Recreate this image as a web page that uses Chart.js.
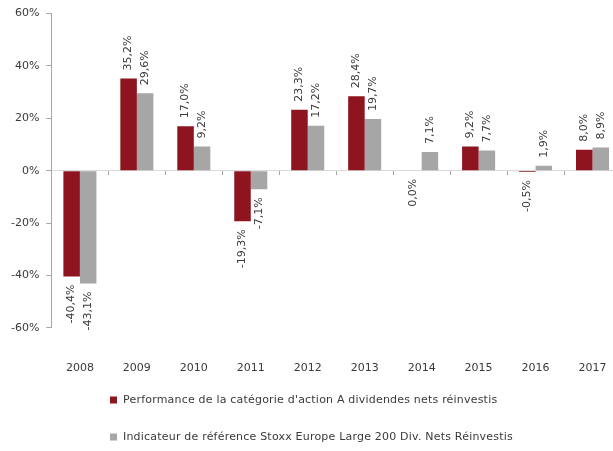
<!DOCTYPE html>
<html>
<head>
<meta charset="utf-8">
<script src="https://cdn.jsdelivr.net/npm/chart.js@4/dist/chart.umd.min.js"></script>
<style>
html,body{margin:0;padding:0;background:#fff;overflow:hidden;}
#wrap{width:613px;height:451px;position:relative;overflow:hidden;}
canvas{display:block;}
</style>
</head>
<body>
<div id="wrap"><canvas id="c" width="621" height="451"></canvas></div>
<script>
const years = ['2008','2009','2010','2011','2012','2013','2014','2015','2016','2017'];
const fundPerf = [-40.4, 35.2, 17.0, -19.3, 23.3, 28.4, 0.0, 9.2, -0.5, 8.0];
const indexPerf = [-43.1, 29.6, 9.2, -7.1, 17.2, 19.7, 7.1, 7.7, 1.9, 8.9];
const fundLabel = "Performance de la catégorie d'action A dividendes nets réinvestis";
const indexLabel = "Indicateur de référence Stoxx Europe Large 200 Div. Nets Réinvestis";
const yTicks = [-60, -40, -20, 0, 20, 40, 60];

const FONT = 'DejaVu Sans';
const TXT = '#3a3a3a';

function fmt(v){ return v.toFixed(1).replace('.', ',') + '%'; }

const dataLabels = {
  id: 'dataLabels',
  afterDatasetsDraw(chart){
    const ctx = chart.ctx;
    ctx.save();
    ctx.font = '11px "' + FONT + '"';
    ctx.fillStyle = TXT;
    chart.data.datasets.forEach((ds, di) => {
      const meta = chart.getDatasetMeta(di);
      meta.data.forEach((bar, i) => {
        const v = ds.data[i];
        const txt = fmt(v);
        ctx.save();
        ctx.translate(bar.x, v > 0 ? bar.y - 8 : Math.max(bar.y, bar.base) + 8);
        ctx.rotate(-Math.PI / 2);
        ctx.textBaseline = 'middle';
        ctx.textAlign = v > 0 ? 'left' : 'right';
        ctx.fillText(txt, 0, 0);
        ctx.restore();
      });
    });
    ctx.restore();
  }
};

const customLegend = {
  id: 'customLegend',
  afterDraw(chart){
    const ctx = chart.ctx;
    ctx.save();
    ctx.font = '11px "' + FONT + '"';
    try { ctx.letterSpacing = '0.2px'; } catch(e) {}
    ctx.textBaseline = 'middle';
    ctx.textAlign = 'left';
    const rows = [400, 437];
    chart.data.datasets.forEach((ds, di) => {
      const y = rows[di];
      ctx.fillStyle = ds.backgroundColor;
      ctx.fillRect(110, y - 3.5, 7, 7);
      ctx.fillStyle = TXT;
      ctx.fillText(ds.label, 123, y);
    });
    ctx.restore();
  }
};

new Chart(document.getElementById('c'), {
  type: 'bar',
  data: {
    labels: years,
    datasets: [
      { label: fundLabel, data: fundPerf, backgroundColor: '#8E1520', barPercentage: 1.0, categoryPercentage: 0.58, xAxisID: 'x' },
      { label: indexLabel, data: indexPerf, backgroundColor: '#A6A6A6', barPercentage: 1.0, categoryPercentage: 0.58, xAxisID: 'x' }
    ]
  },
  options: {
    responsive: false,
    animation: false,
    devicePixelRatio: 1,
    layout: { padding: { top: 11, right: 0, bottom: 42, left: 4 } },
    plugins: { legend: { display: false }, tooltip: { enabled: false } },
    scales: {
      x: {
        type: 'category',
        position: 'bottom',
        offset: true,
        grid: { display: false, drawTicks: false },
        border: { display: false },
        ticks: { padding: 34, color: TXT, font: { family: FONT, size: 11 }, maxRotation: 0, autoSkip: false },
        afterFit(scale){ scale.paddingLeft = 0; scale.paddingRight = 0; }
      },
      x2: {
        type: 'category',
        labels: years,
        position: { y: 0 },
        offset: true,
        grid: { offset: true, drawOnChartArea: false, drawTicks: true, tickLength: 4, color: '#A6A6A6' },
        border: { display: true, color: '#D9D9D9', width: 1 },
        ticks: { display: false },
        afterFit(scale){ scale.paddingLeft = 0; scale.paddingRight = 0; }
      },
      y: {
        min: -60, max: 60,
        afterBuildTicks(scale){ scale.ticks = yTicks.map(v => ({ value: v })); },
        grid: { drawOnChartArea: false, drawTicks: true, tickLength: 5, color: '#A6A6A6' },
        border: { display: true, color: '#A6A6A6', width: 1 },
        ticks: { padding: 7, color: TXT, font: { family: FONT, size: 11 }, callback: v => v + '%' }
      }
    }
  },
  plugins: [dataLabels, customLegend]
});
</script>
</body>
</html>
